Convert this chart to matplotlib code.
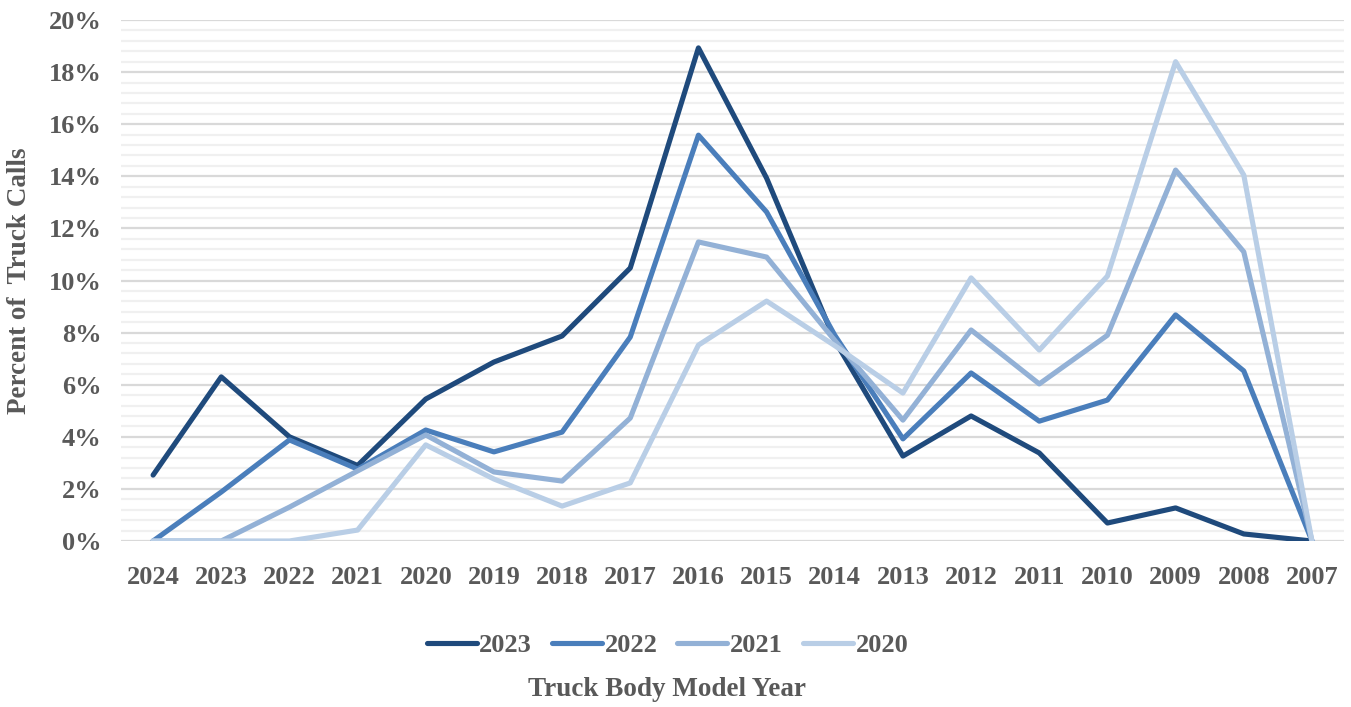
import matplotlib.pyplot as plt
from matplotlib.ticker import MultipleLocator, FuncFormatter

model_years = ["2024", "2023", "2022", "2021", "2020", "2019", "2018", "2017", "2016",
               "2015", "2014", "2013", "2012", "2011", "2010", "2009", "2008", "2007"]

# percent of truck calls by call year
calls_2023 = [2.53, 6.3, 4.0, 2.9, 5.45, 6.87, 7.87, 10.48, 18.93,
              13.93, 7.7, 3.26, 4.8, 3.38, 0.69, 1.27, 0.27, 0.0]
calls_2022 = [0.0, 1.88, 3.88, 2.76, 4.26, 3.42, 4.18, 7.83, 15.58,
              12.63, 7.9, 3.92, 6.45, 4.6, 5.41, 8.68, 6.53, 0.0]
calls_2021 = [0.0, 0.0, 1.3, 2.69, 4.07, 2.65, 2.3, 4.72, 11.48,
              10.9, 7.7, 4.64, 8.1, 6.03, 7.9, 14.24, 11.1, 0.0]
calls_2020 = [0.0, 0.0, 0.0, 0.42, 3.69, 2.38, 1.34, 2.23, 7.52,
              9.21, 7.5, 5.68, 10.1, 7.33, 10.17, 18.4, 14.05, 0.0]

series = [("2023", calls_2023, "#1F4A7C"),
          ("2022", calls_2022, "#4A7EBB"),
          ("2021", calls_2021, "#93B1D6"),
          ("2020", calls_2020, "#B9CEE6")]

plt.rcParams["font.family"] = ["Liberation Serif", "DejaVu Serif"]
text_color = "#595959"

fig = plt.figure(figsize=(13.51, 7.07), dpi=100)
ax = fig.add_axes([0.0896, 0.2348, 0.9052, 0.7369])

x = list(range(len(model_years)))
for name, vals, color in series:
    ax.plot(x, vals, color=color, linewidth=3.7, label=name,
            solid_joinstyle="round", solid_capstyle="round")

ax.set_xlim(-0.47, len(model_years) - 1 + 0.47)
ax.set_ylim(0, 20)
ax.yaxis.set_major_locator(MultipleLocator(2))
ax.yaxis.set_minor_locator(MultipleLocator(0.4))
ax.yaxis.set_major_formatter(FuncFormatter(lambda v, p: f"{v:.0f}%"))
ax.grid(axis="y", which="major", color="#D9D9D9", linewidth=1.6)
ax.grid(axis="y", which="minor", color="#F0F0F0", linewidth=1.6)
ax.set_axisbelow(True)

ax.set_xticks(x)
ax.set_xticklabels(model_years)
ax.tick_params(axis="both", which="both", length=0, labelsize=19,
               labelcolor=text_color)
ax.tick_params(axis="x", pad=18)
ax.tick_params(axis="y", pad=14)
for lab in ax.get_xticklabels() + ax.get_yticklabels():
    lab.set_fontweight("bold")

for s in ax.spines.values():
    s.set_visible(False)

ax.set_ylabel("Percent of  Truck Calls", fontsize=19.5, fontweight="bold",
              color=text_color, labelpad=12)
fig.text(0.494, 1 - 690 / 707, "Truck Body Model Year", ha="center", va="center",
         fontsize=19.5, fontweight="bold", color=text_color)

leg = fig.legend(loc="center", bbox_to_anchor=(0.494, 1 - 645 / 707), ncol=4,
                 frameon=False, fontsize=19, handlelength=1.9,
                 handletextpad=0.1, columnspacing=0.75)
for t in leg.get_texts():
    t.set_color(text_color)
    t.set_fontweight("bold")

fig.savefig("out.png", dpi=100)
